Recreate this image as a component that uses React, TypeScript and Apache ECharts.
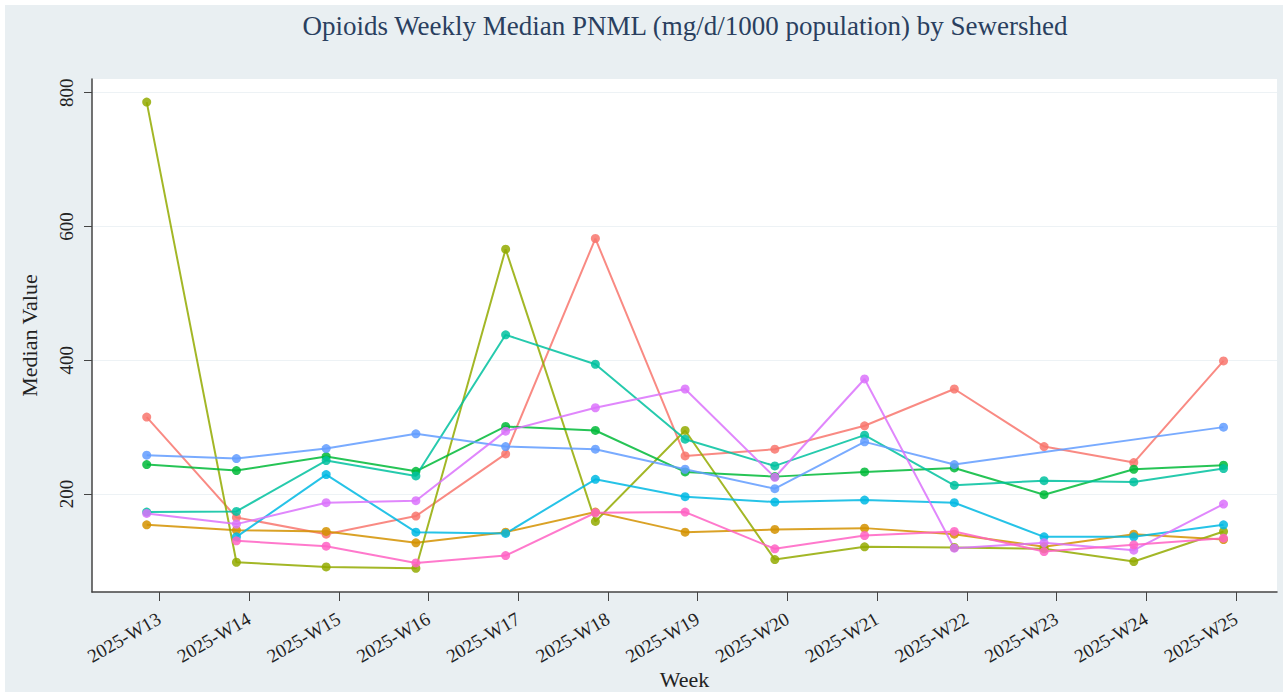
import React, { useEffect, useRef } from "react";
import * as echarts from "echarts";

const weeks = [
  "2025-W13", "2025-W14", "2025-W15", "2025-W16", "2025-W17", "2025-W18", "2025-W19",
  "2025-W20", "2025-W21", "2025-W22", "2025-W23", "2025-W24", "2025-W25",
];

const yTicks = [200, 400, 600, 800];

const sewershed1 = [315, 165, 140, 167, 260, 582, 257, 267, 302, 357, 271, 247, 399];
const sewershed2 = [154, 146, 144, 127, 143, 173, 143, 147, 149, 140, 121, 140, 132];
const sewershed3 = [786, 98, 91, 89, 566, 159, 295, 102, 121, 120, 118, 99, 144];
const sewershed4 = [244, 235, 256, 234, 301, 295, 233, 226, 233, 239, 199, 237, 243];
const sewershed5 = [173, 174, 250, 227, 438, 394, 282, 242, 288, 213, 220, 218, 238];
const sewershed6 = [null, 136, 229, 143, 141, 222, 196, 188, 191, 187, 136, 136, 154];
const sewershed7 = [258, 253, 268, 290, 271, 267, 237, 208, 278, 244, null, null, 300];
const sewershed8 = [171, 155, 187, 190, 294, 329, 357, 225, 372, 119, 127, 116, 185];
const sewershed9 = [null, 130, 122, 97, 108, 172, 173, 118, 138, 144, 114, 124, 134];

const seriesNames = [
  "Sewershed 1", "Sewershed 2", "Sewershed 3", "Sewershed 4", "Sewershed 5",
  "Sewershed 6", "Sewershed 7", "Sewershed 8", "Sewershed 9",
];
const seriesValues = [
  sewershed1, sewershed2, sewershed3, sewershed4, sewershed5,
  sewershed6, sewershed7, sewershed8, sewershed9,
];
const colors = [
  "#F8766D", "#D39200", "#93AA00", "#00BA38", "#00C19F",
  "#00B9E3", "#619CFF", "#DB72FB", "#FF61C3",
];

const FONT = "Liberation Serif";

export default function App() {
  const ref = useRef<HTMLDivElement>(null);
  useEffect(() => {
    if (!ref.current) return;
    const chart = echarts.init(ref.current, undefined, { renderer: "svg" });
    const series = seriesValues.map((vals, si) => ({
      name: seriesNames[si],
      type: "line",
      xAxisIndex: 0,
      yAxisIndex: 0,
      symbol: "circle",
      symbolSize: 9,
      showSymbol: true,
      data: vals
        .map((v, i) => (v === null ? null : [i, v]))
        .filter((d) => d !== null),
      lineStyle: { width: 2, color: colors[si], opacity: 0.85 },
      itemStyle: { color: colors[si], opacity: 0.85 },
      emphasis: { disabled: true },
    }));
    chart.setOption({
      animation: false,
      backgroundColor: "#e9eff2",
      textStyle: { fontFamily: FONT },
      title: {
        text: "Opioids Weekly Median PNML (mg/d/1000 population) by Sewershed",
        left: 680,
        top: 7,
        padding: 0,
        textAlign: "center",
        textStyle: { fontFamily: FONT, fontSize: 27, fontWeight: "normal", color: "#2a3f5f" },
      },
      grid: [
        {
          left: 87, right: 6, top: 74, bottom: 100, show: true,
          backgroundColor: "#ffffff", borderWidth: 0, outerBoundsMode: "none", containLabel: false,
        },
        {
          left: 154.3, right: 47, top: 74, bottom: 100, show: false,
          outerBoundsMode: "none", containLabel: false,
        },
      ],
      xAxis: [
        {
          type: "value",
          gridIndex: 0,
          min: -0.6096,
          max: 12.596,
          axisLine: { show: true, onZero: false, lineStyle: { color: "#444", width: 1.5 } },
          axisTick: { show: false },
          axisLabel: { show: false },
          splitLine: { show: false },
          name: "Week",
          nameLocation: "middle",
          nameGap: 76,
          nameTextStyle: { fontFamily: FONT, fontSize: 22, color: "#222" },
        },
        {
          type: "category",
          gridIndex: 1,
          data: weeks,
          boundaryGap: false,
          axisLine: { show: false },
          axisTick: { show: true, length: 9, lineStyle: { color: "#444", width: 1 } },
          axisLabel: {
            rotate: 30,
            margin: 25,
            fontFamily: FONT,
            fontSize: 19,
            color: "#222",
            interval: 0,
          },
          splitLine: { show: false },
        },
      ],
      yAxis: [
        {
          type: "value",
          gridIndex: 0,
          min: 53.5,
          max: 820.5,
          axisLine: { show: true, onZero: false, lineStyle: { color: "#444", width: 1.5 } },
          axisTick: { show: true, length: 8, customValues: yTicks, lineStyle: { color: "#444" } },
          axisLabel: {
            customValues: yTicks,
            rotate: 90,
            margin: 16,
            fontFamily: FONT,
            fontSize: 19,
            color: "#222",
          },
          splitLine: { show: true, lineStyle: { color: "#edf2f5", width: 1 } },
          name: "Median Value",
          nameLocation: "middle",
          nameGap: 52,
          nameTextStyle: { fontFamily: FONT, fontSize: 22, color: "#222" },
        },
        {
          type: "value",
          gridIndex: 1,
          show: false,
        },
      ],
      series,
    });
    return () => chart.dispose();
  }, []);
  return (
    <div
      ref={ref}
      style={{ position: "fixed", left: 5, top: 5, width: 1278, height: 687 }}
    />
  );
}
